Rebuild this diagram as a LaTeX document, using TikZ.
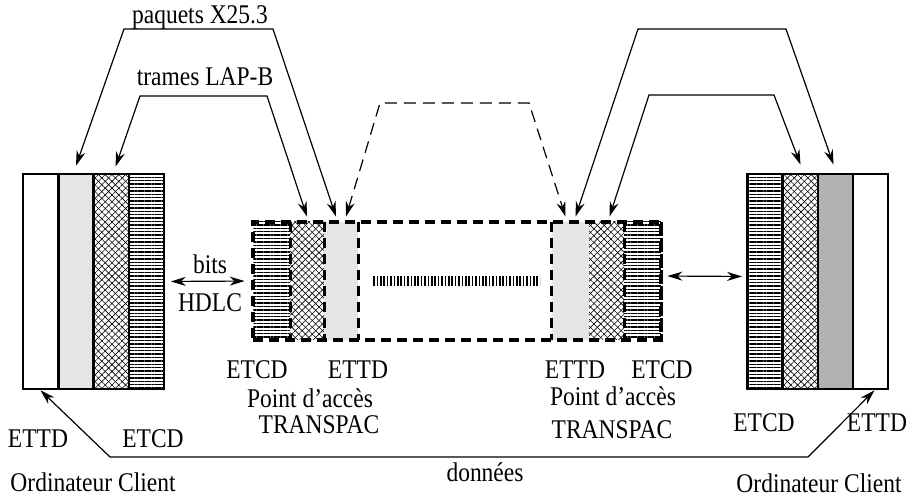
\documentclass[tikz,border=0pt]{standalone}
\usepackage{fontspec}
\setmainfont[FakeStretch=0.87]{Liberation Serif}
\usetikzlibrary{arrows.meta,patterns.meta}

\tikzset{
    fleche/.style={{Stealth[length=7.5pt,width=4.5pt]}-{Stealth[length=7.5pt,width=4.5pt]}, line width=0.6pt},
    colonne/.style={draw, line width=1.3pt, inner sep=0pt, minimum width=17.6pt, minimum height=107.5pt},
    acces/.style={inner sep=0pt, minimum height=59pt},
    tirets/.style={line width=1.6pt, dash pattern=on 5pt off 3pt},
    hachures/.style={pattern={Lines[angle=0,distance=1.7pt,line width=0.7pt]}},
    croisillons/.style={preaction={pattern={Lines[angle=45,distance=2.4pt,line width=0.3pt]}}, pattern={Lines[angle=-45,distance=2.4pt,line width=0.3pt]}},
    clair/.style={fill=gray!20},
    fonce/.style={fill=gray!60},
}

\begin{document}
\begin{tikzpicture}[x=0.5pt, y=-0.5pt, font=\fontsize{13.5}{16}\selectfont]
    \useasboundingbox (0,0) rectangle (912,497);

    \node[colonne] (g1) at (40.5,281.5) {};
    \node[colonne, clair] (g2) at (76,281.5) {};
    \node[colonne, croisillons] (g3) at (111.5,281.5) {};
    \node[colonne, hachures] (g4) at (146.5,281.5) {};

    \node[acces, hachures, minimum width=18.5pt] (ma1) at (271.5,281) {};
    \node[acces, croisillons, minimum width=17pt] (ma2) at (307,281) {};
    \node[acces, clair, minimum width=17pt] (ma3) at (341,281) {};
    \node[acces, clair, minimum width=18.5pt] (mb1) at (570.5,281) {};
    \node[acces, croisillons, minimum width=17.5pt] (mb2) at (606.5,281) {};
    \node[acces, hachures, minimum width=18.5pt] (mb3) at (642.5,281) {};
    \node[acces, draw, tirets, minimum width=204pt] (cadre) at (457,281) {};
    \foreach \c in {ma1,ma2,ma3,mb2,mb3}
        \draw[tirets] (\c.north east) -- (\c.south east);
    \draw[tirets] (mb1.north west) -- (mb1.south west);
    \node[inner sep=0pt, minimum width=84pt, minimum height=4.5pt, pattern={Lines[angle=90,distance=1.7pt,line width=0.8pt]}] (liaison) at (456,281.5) {};

    \node[colonne, hachures] (d1) at (765,281.5) {};
    \node[colonne, croisillons] (d2) at (800.5,281.5) {};
    \node[colonne, fonce] (d3) at (835.5,281.5) {};
    \node[colonne] (d4) at (870.5,281.5) {};

    \draw[fleche] ([yshift=3.5pt]g2.north) -- (124,29) -- (273,29) -- ([xshift=-2.5pt,yshift=2.5pt]ma3.north);
    \draw[fleche] ([xshift=2pt,yshift=3.5pt]g3.north) -- (140,96) -- (267,96) -- ([yshift=2.5pt]ma2.north);
    \draw[fleche, dash pattern=on 6pt off 3.5pt] ([xshift=2.5pt,yshift=2.5pt]ma3.north) -- (380,103) -- (529,103) -- ([xshift=-2.5pt,yshift=2.5pt]mb1.north);
    \draw[fleche] ([xshift=2.5pt,yshift=2.5pt]mb1.north) -- (638,29) -- (786,29) -- ([xshift=-1pt,yshift=4pt]d3.north);
    \draw[fleche] ([xshift=1.5pt,yshift=2.5pt]mb2.north) -- (649,95) -- (774,95) -- ([yshift=4pt]d2.north);
    \draw[fleche, shorten <=3pt, shorten >=4pt] (g4.east) -- (ma1.west);
    \draw[fleche, shorten <=3pt, shorten >=2pt] ([yshift=2.5pt]mb3.east) -- ([yshift=2.5pt]d1.west);
    \draw[fleche] (g1.south) -- (110,457) -- (808,457) -- ([xshift=2pt]d4.south);

    \node (paquets) at (200,17) {paquets X25.3};
    \node (trames) at (205,77) {trames LAP-B};
    \node (bits) at (210,264) {bits};
    \node (hdlc) at (210,303) {HDLC};
    \node (etcda) at (257,370) {ETCD};
    \node (ettda) at (358,370) {ETTD};
    \node (pointa) at (310,398) {Point d'accès};
    \node (transpaca) at (319,425) {TRANSPAC};
    \node (ettdb) at (575,370) {ETTD};
    \node (etcdb) at (662,370) {ETCD};
    \node (pointb) at (613,396) {Point d'accès};
    \node (transpacb) at (612,430) {TRANSPAC};
    \node (ettdg) at (38,439) {ETTD};
    \node (etcdg) at (153,439) {ETCD};
    \node (clientg) at (93,482) {Ordinateur Client};
    \node (etcdd) at (764,423) {ETCD};
    \node (ettdd) at (877,423) {ETTD};
    \node (clientd) at (819,483) {Ordinateur Client};
    \node (donnees) at (485,472) {données};
\end{tikzpicture}
\end{document}
